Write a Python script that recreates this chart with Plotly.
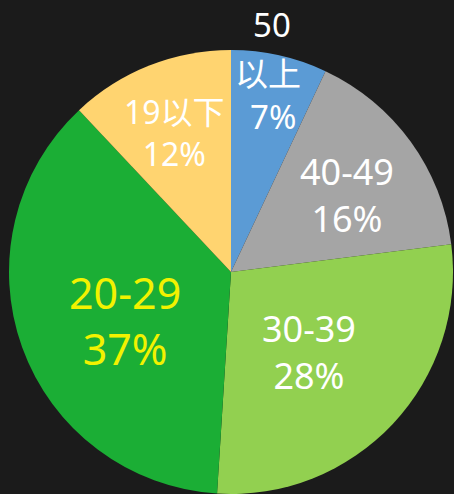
import plotly.graph_objects as go

W, H = 454, 494

# data
labels = ["50以上", "40-49", "30-39", "20-29", "19以下"]
values = [7, 16, 28, 37, 12]
colors = ["#5B9BD5", "#A5A5A5", "#92D050", "#1BAE35", "#FFD470"]

text_colors = ["#FFFFFF", "#FFFFFF", "#FFFFFF", "#F2F200", "#FFFFFF"]
font_sizes = [33, 36, 36, 43, 32]

fig = go.Figure(go.Pie(
    labels=labels,
    values=values,
    sort=False,
    direction="clockwise",
    rotation=0,
    marker=dict(colors=colors, line=dict(width=0)),
    textinfo="none",
    hoverinfo="label+percent",
    showlegend=False,
    domain=dict(x=[9 / W, 453 / W], y=[0, 1 - 50 / H]),
))

FONT = "Noto Sans, Noto Sans CJK SC, sans-serif"

# text blocks: (text, centre px x, centre px y) per slice
blocks = [
    [("50", 272, 25), (labels[0][2:], 268, 73), (f"{values[0]}%", 273, 117)],
    [(f"{labels[1]}<br>{values[1]}%", 347, 195)],
    [(f"{labels[2]}<br>{values[2]}%", 309, 352)],
    [(f"{labels[3]}<br>{values[3]}%", 125, 320)],
    [(f"{labels[4]}<br>{values[4]}%", 174, 132)],
]

annotations = []
for i, blk in enumerate(blocks):
    for txt, px, py in blk:
        annotations.append(dict(
            x=px / W, y=1 - py / H, xref="paper", yref="paper",
            text=txt, showarrow=False, xanchor="center", yanchor="middle",
            font=dict(family=FONT, size=font_sizes[i], color=text_colors[i]),
        ))

fig.update_layout(
    width=W, height=H,
    margin=dict(l=0, r=0, t=0, b=0),
    paper_bgcolor="#1B1B1B",
    plot_bgcolor="#1B1B1B",
    annotations=annotations,
)

fig.write_html(
    "out.html",
    config={"displayModeBar": False},
    post_script="document.body.style.margin='0';document.body.style.background='#1B1B1B';",
)
